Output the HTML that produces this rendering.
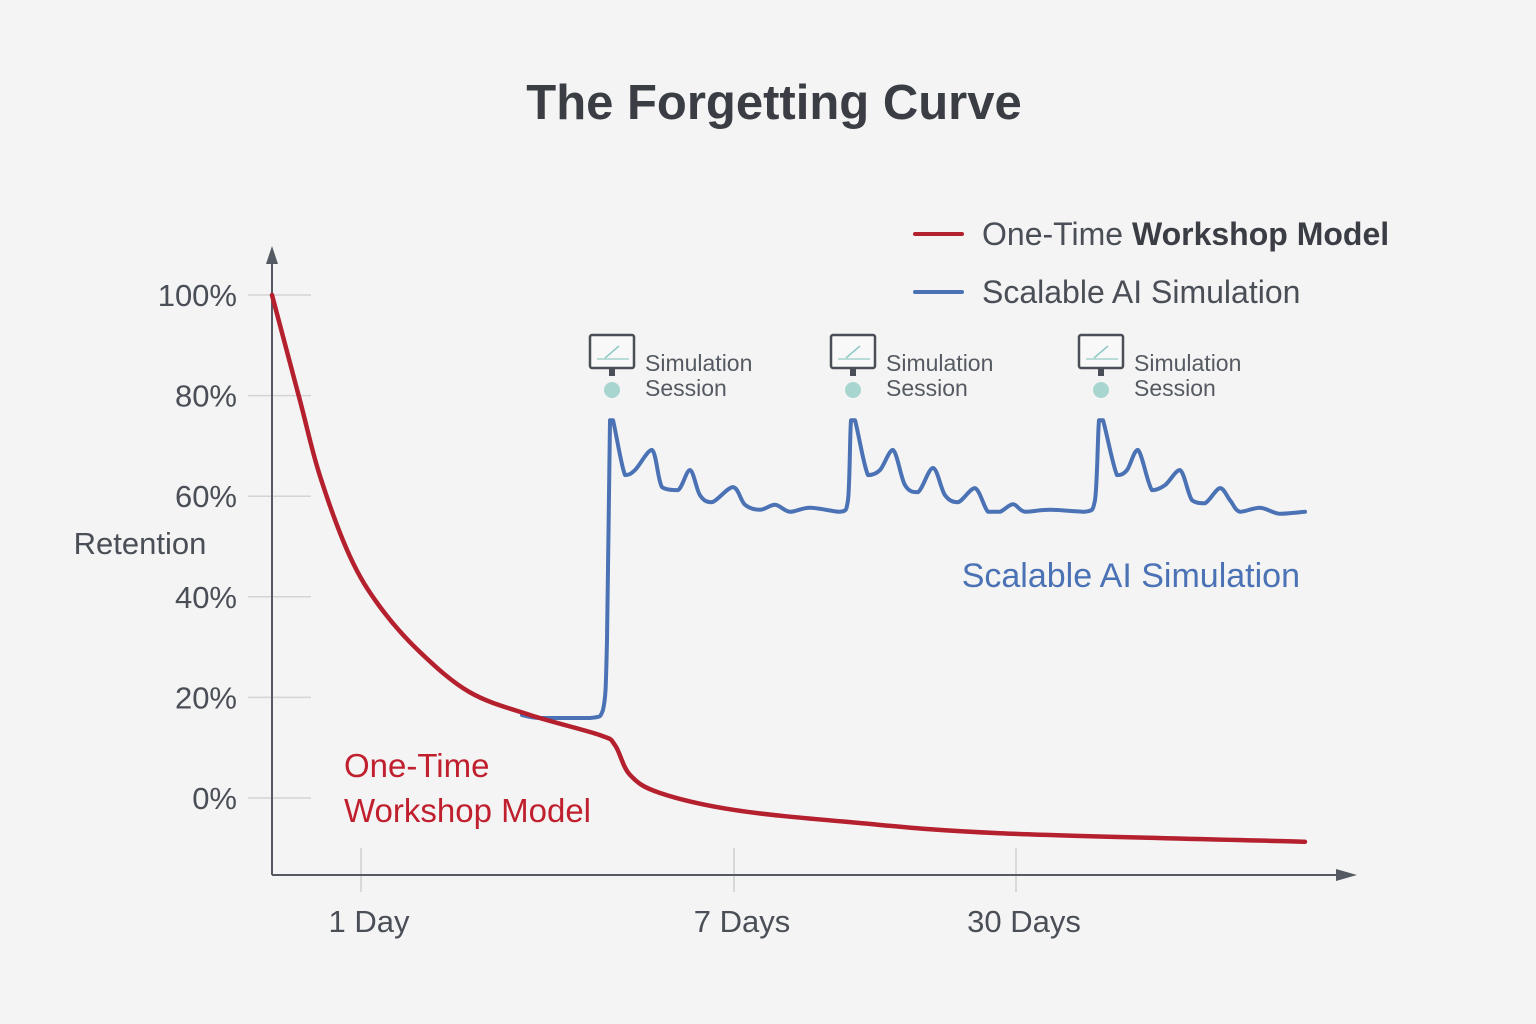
<!DOCTYPE html>
<html><head><meta charset="utf-8"><style>
html,body{margin:0;padding:0;background:#f4f4f4;}
svg{display:block;font-family:"Liberation Sans","DejaVu Sans",sans-serif;}
</style></head><body>
<svg id="chart" width="1536" height="1024" viewBox="0 0 1536 1024" xmlns="http://www.w3.org/2000/svg">
<rect width="1536" height="1024" fill="#f4f4f4"/>
<text x="774" y="119" text-anchor="middle" font-size="49" font-weight="bold" fill="#3a3d44">The Forgetting Curve</text>
<g>
<line x1="915" y1="234" x2="962" y2="234" stroke="#b5202e" stroke-width="4" stroke-linecap="round"/>
<text x="982" y="245" font-size="32" fill="#4a4e56">One-Time <tspan font-weight="bold" fill="#3a3d44">Workshop Model</tspan></text>
<line x1="915" y1="292" x2="962" y2="292" stroke="#4a72b5" stroke-width="4" stroke-linecap="round"/>
<text x="982" y="303" font-size="32" fill="#4a4e56">Scalable AI Simulation</text>
</g>
<g id="axes"></g>
<g id="marks"></g>
<text x="140" y="554" text-anchor="middle" font-size="31" fill="#4a4e56">Retention</text>
<text x="344" y="777" font-size="33" fill="#c0202e">One-Time</text>
<text x="344" y="822" font-size="33" fill="#c0202e">Workshop Model</text>
<text x="1300" y="587" text-anchor="end" font-size="34" fill="#4a72b5">Scalable AI Simulation</text>
</svg>
<script>
const yTicks=[0,20,40,60,80,100];
const xTickLabels=["1 Day","7 Days","30 Days"];
const xTickValues=[89,462,744];
const sessionX=[339,580,828];
const redX=[0,28,48,78,108,148,198,258,328,343,358,388,463,578,728,1033];
const redY=[100,79,64,48,38,29,21,16.5,12.5,10.5,4.6,1,-2.4,-4.8,-7,-8.7];
const blueX=[250,268,318,331,335,338,341,353,363,380,390,406,418,428,440,461,473,488,503,518,538,568,576,579,583,596,608,621,633,646,661,673,686,703,716,728,741,753,778,813,823,827,831,845,855,866,880,893,908,920,933,948,958,968,988,1008,1033];
const blueY=[16.5,15.9,15.9,17.5,31.4,75.1,75.1,64.2,65.2,69.2,61.8,61.2,65.2,60.2,58.8,61.8,58.3,57.3,58.3,56.9,57.7,56.9,59.2,75.1,75.1,64.2,65.2,69.2,62.2,60.8,65.6,60.2,58.8,61.6,56.9,56.9,58.4,56.9,57.3,56.9,59.2,75.1,75.1,64.2,65.2,69.2,61.2,62.2,65.2,59.2,58.6,61.6,59.2,56.9,57.7,56.5,56.9];
const X0=272,X1=1305,XMAX=1033,Y0=798,Y100=295;
const sx=v=>X0+(X1-X0)*v/XMAX;
const sy=v=>Y0+(Y100-Y0)*v/100;
const NS="http://www.w3.org/2000/svg";
function mk(tag,attrs,parent){const e=document.createElementNS(NS,tag);for(const k in attrs)e.setAttribute(k,attrs[k]);parent.appendChild(e);return e;}
const axes=document.getElementById('axes'),marks=document.getElementById('marks');
yTicks.forEach(t=>{
 const g=mk('line',{x1:248,x2:311,y1:sy(t),y2:sy(t),stroke:'#d4d4d4','stroke-width':1.5},axes);
 
 
 const l=mk('text',{x:237,y:sy(t)+11,'text-anchor':'end','font-size':31,fill:'#4a4e56'},axes);
 l.textContent=t+'%';
 
 
});
xTickValues.forEach((v,i)=>{
 const tk=mk('line',{x1:sx(v),x2:sx(v),y1:848,y2:892,stroke:'#cfcfcf','stroke-width':1.5},axes);
 
 
 const l=mk('text',{x:sx(v)+8,y:932,'text-anchor':'middle','font-size':31,fill:'#4a4e56'},axes);
 l.textContent=xTickLabels[i];
 
 
});
const ya=mk('path',{d:'M272 875 L272 262',stroke:'#555a62','stroke-width':2,fill:'none'},axes);


const yh=mk('path',{d:'M266 264 L272 246 L278 264 Z',fill:'#555a62'},axes);


const xa=mk('path',{d:'M272 875 L1340 875',stroke:'#555a62','stroke-width':2,fill:'none'},axes);


const xh=mk('path',{d:'M1336 869 L1357 875 L1336 881 Z',fill:'#555a62'},axes);


function smooth(xs,ys){const p=xs.map((x,i)=>[sx(x),sy(ys[i])]);let d='M'+p[0][0]+' '+p[0][1];
 const cl=(v,a,b)=>Math.max(Math.min(a,b),Math.min(Math.max(a,b),v));
 for(let i=0;i<p.length-1;i++){const a=p[i-1]||p[i],b=p[i],c=p[i+1],e=p[i+2]||c;
  const c1=[b[0]+(c[0]-a[0])/6,cl(b[1]+(c[1]-a[1])/6,b[1],c[1])],c2=[c[0]-(e[0]-b[0])/6,cl(c[1]-(e[1]-b[1])/6,b[1],c[1])];
  d+=` C${c1[0]} ${c1[1]} ${c2[0]} ${c2[1]} ${c[0]} ${c[1]}`;}return d;}
const blue=mk('path',{d:smooth(blueX,blueY),stroke:'#4a72b5','stroke-width':4,fill:'none','stroke-linejoin':'round','stroke-linecap':'round'},marks);


const red=mk('path',{d:smooth(redX,redY),stroke:'#b5202e','stroke-width':4.5,fill:'none','stroke-linecap':'round'},marks);


sessionX.forEach((v,i)=>{
 const cx=sx(v);
 const g=mk('g',{},marks);
 
 
 mk('rect',{x:cx-21,y:335,width:44,height:33,fill:'#f8f8f8',stroke:'#4a4e56','stroke-width':2.5,rx:2},g);
 mk('line',{x1:cx-14,y1:359,x2:cx+18,y2:359,stroke:'#b9dcd8','stroke-width':2},g);
 mk('line',{x1:cx-6,y1:358,x2:cx+8,y2:346,stroke:'#8fcbc4','stroke-width':1.5},g);
 mk('rect',{x:cx-2,y:368,width:6,height:8,fill:'#4a4e56'},g);
 mk('circle',{cx:cx+1,cy:390,r:8,fill:'#a9d5cf'},g);
 const t1=mk('text',{x:cx+34,y:371,'font-size':23,fill:'#555a62'},g);t1.textContent='Simulation';
 const t2=mk('text',{x:cx+34,y:396,'font-size':23,fill:'#555a62'},g);t2.textContent='Session';
});
</script>
</body></html>
